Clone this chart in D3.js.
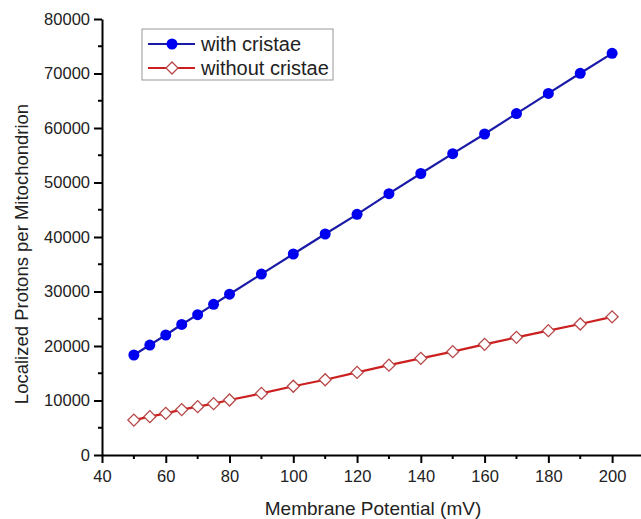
<!DOCTYPE html>
<html>
<head>
<meta charset="utf-8">
<script src="https://cdn.jsdelivr.net/npm/d3@7"></script>
<style>
  body { margin: 0; background: #fff; }
  svg { display: block; font-family: "Liberation Sans", Arial, sans-serif; }
</style>
</head>
<body>
<script>
// data
const potentials = [50, 55, 60, 65, 70, 75, 80, 90, 100, 110, 120, 130, 140, 150, 160, 170, 180, 190, 200];
const withCristae = [18350, 20180, 22020, 23950, 25750, 27650, 29500, 33200, 36880, 40550, 44160, 47950, 51650, 55290, 58900, 62650, 66350, 70040, 73700];
const withoutCristae = [6400, 7030, 7650, 8330, 8870, 9420, 10090, 11300, 12620, 13800, 15150, 16480, 17740, 18960, 20300, 21590, 22810, 24040, 25350];
const seriesNames = ["with cristae", "without cristae"];
const xTicks = [40, 60, 80, 100, 120, 140, 160, 180, 200];
const yTicks = [0, 10000, 20000, 30000, 40000, 50000, 60000, 70000, 80000];

const W = 641, H = 519;
const svg = d3.select("body").append("svg")
  .attr("width", W)
  .attr("height", H);

const x = d3.scaleLinear().domain([40, 210]).range([102, 644]);
const y = d3.scaleLinear().domain([0, 80000]).range([455, 19]);

// minor ticks
const xMinor = d3.range(50, 210, 20);
const yMinor = d3.range(5000, 80000, 10000);

const xAxis = svg.append("g")
  .attr("transform", `translate(0,${y(0)})`)
  .call(d3.axisBottom(x).tickValues(xTicks).tickFormat(d3.format("d"))
    .tickSizeInner(8).tickSizeOuter(0).tickPadding(4));
xAxis.append("g").selectAll("line").data(xMinor).join("line")
  .attr("x1", d => x(d)).attr("x2", d => x(d))
  .attr("y1", 0).attr("y2", 4)
  .attr("stroke", "#000").attr("stroke-width", 2);

const yAxis = svg.append("g")
  .attr("transform", `translate(${x(40)},0)`)
  .call(d3.axisLeft(y).tickValues(yTicks).tickFormat(d3.format("d"))
    .tickSizeInner(8).tickSizeOuter(0).tickPadding(4));
yAxis.append("g").selectAll("line").data(yMinor).join("line")
  .attr("y1", d => y(d)).attr("y2", d => y(d))
  .attr("x1", 0).attr("x2", -4)
  .attr("stroke", "#000").attr("stroke-width", 2);

[xAxis, yAxis].forEach(g => {
  g.select(".domain").attr("stroke", "#000").attr("stroke-width", 2);
  g.selectAll(".tick line").attr("stroke", "#000").attr("stroke-width", 2);
  g.selectAll(".tick text")
    .attr("font-size", "16.5px")
    .attr("fill", "#222")
    .attr("font-family", "Liberation Sans, Arial, sans-serif");
});
xAxis.selectAll(".tick text").attr("dy", "0.9em");

// titles
svg.append("text")
  .attr("x", 373)
  .attr("y", 515)
  .attr("text-anchor", "middle")
  .attr("font-size", "19px")
  .attr("fill", "#222")
  .text("Membrane Potential (mV)");

svg.append("text")
  .attr("transform", "rotate(-90)")
  .attr("x", -254)
  .attr("y", 28)
  .attr("text-anchor", "middle")
  .attr("font-size", "18.5px")
  .attr("fill", "#222")
  .text("Localized Protons per Mitochondrion");

// lines
const line = d3.line().x(d => x(d[0])).y(d => y(d[1]));
const blueData = potentials.map((p, i) => [p, withCristae[i]]);
const redData = potentials.map((p, i) => [p, withoutCristae[i]]);

svg.append("path")
  .datum(blueData)
  .attr("d", line)
  .attr("fill", "none")
  .attr("stroke", "#1a1aa8")
  .attr("stroke-width", 2.2);

svg.append("path")
  .datum(redData)
  .attr("d", line)
  .attr("fill", "none")
  .attr("stroke", "#cc2020")
  .attr("stroke-width", 2.2);

const diamond = d3.symbol().type(d3.symbolSquare).size(72);

svg.append("g").selectAll("circle")
  .data(blueData)
  .join("circle")
    .attr("cx", d => x(d[0]))
    .attr("cy", d => y(d[1]))
    .attr("r", 5.5)
    .attr("fill", "#0000f0");

svg.append("g").selectAll("path")
  .data(redData)
  .join("path")
    .attr("d", diamond)
    .attr("transform", d => `translate(${x(d[0])},${y(d[1])}) rotate(45)`)
    .attr("fill", "#fff")
    .attr("stroke", "#b84848")
    .attr("stroke-width", 1.3);

// legend
const legend = svg.append("g").attr("transform", "translate(142,29)");
legend.append("rect")
  .attr("width", 191)
  .attr("height", 51)
  .attr("fill", "#fff")
  .attr("stroke", "#999")
  .attr("stroke-width", 1);

seriesNames.forEach((name, i) => {
  const g = legend.append("g").attr("transform", `translate(0,${15 + i * 24})`);
  g.append("line")
    .attr("x1", 6).attr("x2", 53)
    .attr("stroke", i === 0 ? "#1a1aa8" : "#cc2020")
    .attr("stroke-width", 2.2);
  if (i === 0) {
    g.append("circle").attr("cx", 30).attr("r", 5.5).attr("fill", "#0000f0");
  } else {
    g.append("path")
      .attr("d", diamond)
      .attr("transform", "translate(30,0) rotate(45)")
      .attr("fill", "#fff")
      .attr("stroke", "#b84848")
      .attr("stroke-width", 1.3);
  }
  g.append("text")
    .attr("x", 59)
    .attr("y", 7)
    .attr("font-size", "20px")
    .attr("fill", "#222")
    .text(name);
});
</script>
</body>
</html>
